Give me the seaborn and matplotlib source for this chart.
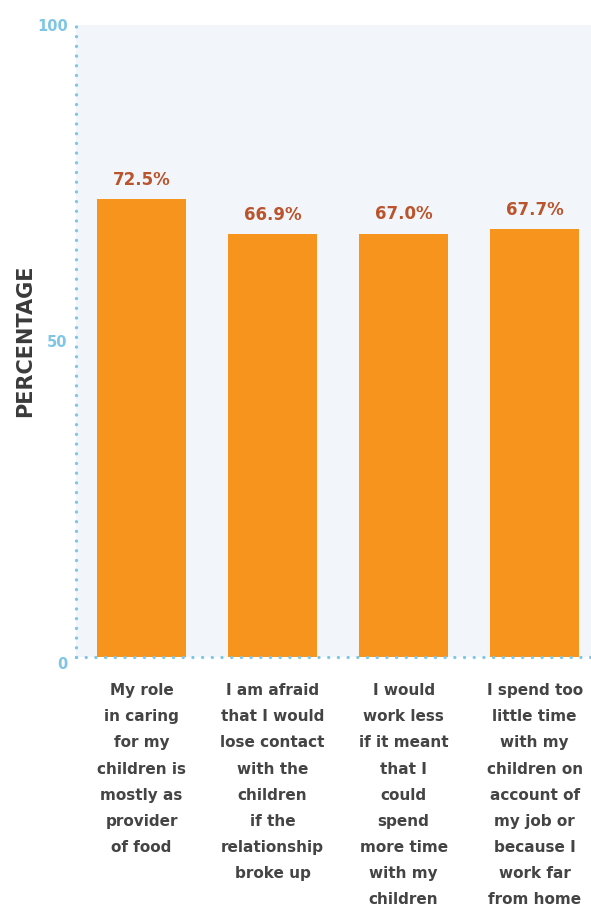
import matplotlib
matplotlib.use("Agg")
import matplotlib.pyplot as plt
import seaborn as sns
import pandas as pd

# data
categories = [
    "My role\nin caring\nfor my\nchildren is\nmostly as\nprovider\nof food",
    "I am afraid\nthat I would\nlose contact\nwith the\nchildren\nif the\nrelationship\nbroke up",
    "I would\nwork less\nif it meant\nthat I\ncould\nspend\nmore time\nwith my\nchildren",
    "I spend too\nlittle time\nwith my\nchildren on\naccount of\nmy job or\nbecause I\nwork far\nfrom home",
]
values = [72.5, 66.9, 67.0, 67.7]
y_ticks = [0, 50, 100]

bar_color = "#f7941d"
label_color = "#b9542c"
tick_blue = "#7fc6e4"
text_gray = "#444444"
panel_bg = "#f2f6fb"

sns.set_style("white")
plt.rcParams["font.family"] = ["DejaVu Sans"]

df = pd.DataFrame({"category": categories, "value": values})

W, H = 591, 911
fig = plt.figure(figsize=(W / 100, H / 100), dpi=100)
ax = fig.add_axes([76 / W, (H - 657) / H, (W - 76) / W, 632 / H])
ax.set_facecolor(panel_bg)

sns.barplot(data=df, x="category", y="value", color=bar_color,
            saturation=1, width=0.68, linewidth=0, edgecolor="none", ax=ax)

ax.set_ylim(0, 100)
ax.set_xlim(-0.5, 3.43)

# value labels
for i, v in enumerate(values):
    ax.text(i, v + 1.6, f"{v:.1f}%", ha="center", va="bottom",
            fontsize=12, fontweight="bold", color=label_color)

# dotted axes
for side in ["top", "right"]:
    ax.spines[side].set_visible(False)
for side in ["left", "bottom"]:
    ax.spines[side].set_visible(True)
    ax.spines[side].set_color(tick_blue)
    ax.spines[side].set_linewidth(2.4)
    ax.spines[side].set_linestyle((0, (0.01, 2.9)))
    ax.spines[side].set_capstyle("round")
    ax.spines[side].set_zorder(5)

ax.set_yticks(y_ticks)
ax.set_yticklabels([str(t) for t in y_ticks], color=tick_blue,
                   fontsize=10.5, fontweight="bold")
ax.get_yticklabels()[0].set_va("top")
ax.tick_params(axis="y", length=0, pad=6)

ax.tick_params(axis="x", length=0, pad=19)
for lab in ax.get_xticklabels():
    lab.set_fontsize(11)
    lab.set_fontweight("bold")
    lab.set_color(text_gray)
    lab.set_linespacing(1.92)
    lab.set_va("top")

ax.set_xlabel("")
ax.set_ylabel("PERCENTAGE", fontsize=15, fontweight="bold", color="#3a3a3a")
ax.yaxis.set_label_coords(-41 / (W - 76), 0.5)

fig.savefig("out.png", dpi=100)
